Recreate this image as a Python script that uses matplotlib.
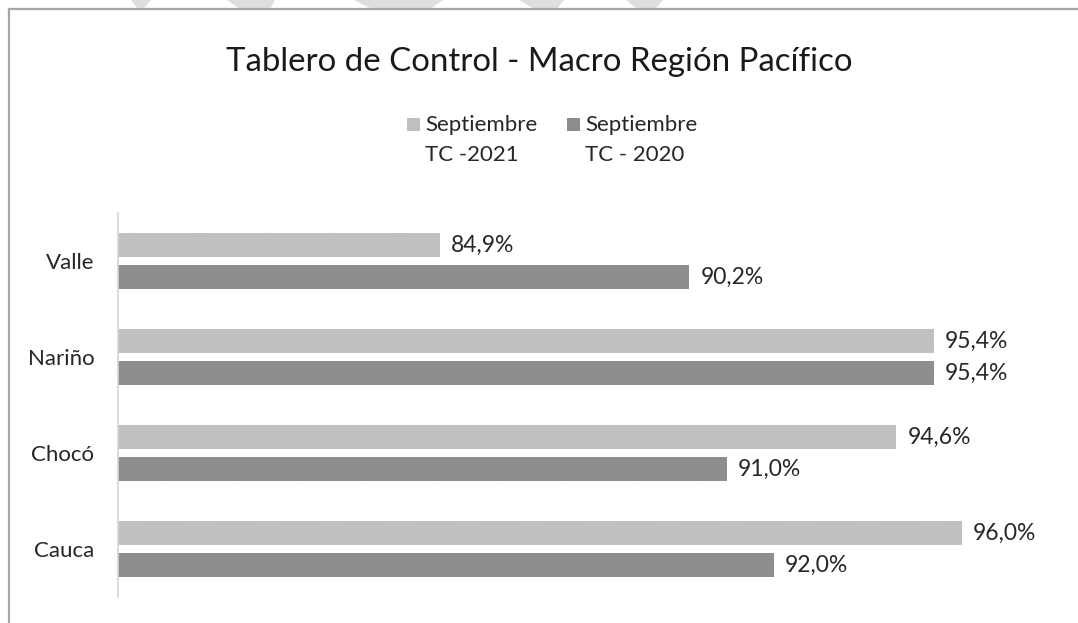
import matplotlib
matplotlib.use("Agg")
import matplotlib.pyplot as plt
from matplotlib.lines import Line2D
from matplotlib.patches import Polygon, Rectangle
import numpy as np

# data
categories = ["Valle", "Nariño", "Chocó", "Cauca"]
tc_2021 = [84.9, 95.4, 94.6, 96.0]
tc_2020 = [90.2, 95.4, 91.0, 92.0]
series_labels = ["Septiembre\nTC -2021", "Septiembre\nTC - 2020"]
title = "Tablero de Control - Macro Región Pacífico"

LIGHT = "#bfbfbf"
DARK = "#8c8c8c"
FONT = "Lato"
plt.rcParams["font.family"] = [FONT, "DejaVu Sans"]
plt.rcParams["hatch.linewidth"] = 0.4

W, H = 1078, 623
fig = plt.figure(figsize=(W / 100, H / 100), dpi=100)

# watermark bits in the top margin (outside the frame)
for x0, x1, b0, b1 in [(131, 151, 138, 143), (227, 275, 240, 270), (354, 443, 372, 430),
                       (519, 564, 534, 557), (626, 663, 637, 655)]:
    fig.patches.append(Polygon([(x0 / W, 1), (x1 / W, 1), (b1 / W, 1 - 9 / H), (b0 / W, 1 - 9 / H)],
                               closed=True, transform=fig.transFigure, color="#dedede", lw=0))

# frame (only top and left show)
fig.add_artist(Line2D([9 / W, 1], [1 - 9 / H, 1 - 9 / H], transform=fig.transFigure, color="#a6a6a6", lw=1.6))
fig.add_artist(Line2D([9 / W, 9 / W], [0, 1 - 9 / H], transform=fig.transFigure, color="#a6a6a6", lw=1.6))

ax = fig.add_axes([118 / W, 26 / H, 938 / W, 384 / H])
y = np.arange(len(categories))
h = 0.25
b1 = ax.barh(y - 0.1667, tc_2021, height=h, color=LIGHT, edgecolor="#cbcbcb", hatch="......", lw=0)
b2 = ax.barh(y + 0.1667, tc_2020, height=h, color=DARK, edgecolor="#989898", hatch="......", lw=0)

for bars, vals in [(b1, tc_2021), (b2, tc_2020)]:
    for bar, v in zip(bars, vals):
        ax.annotate(f"{v:.1f}%".replace(".", ","), (bar.get_width(), bar.get_y() + bar.get_height() / 2),
                    xytext=(8, 0), textcoords="offset points", va="center", ha="left",
                    fontsize=16.5, color="#262626")

ax.set_xlim(78.05, 98)
ax.set_ylim(3.5, -0.5)
ax.set_yticks(y)
ax.set_yticklabels(categories, fontsize=16, color="#262626")
ax.tick_params(axis="y", length=0, pad=17)
ax.set_xticks([])
for s in ["top", "right", "bottom"]:
    ax.spines[s].set_visible(False)
ax.spines["left"].set_color("#d4d4d4")
ax.spines["left"].set_linewidth(1.2)

fig.text(0.5, 1 - 71 / H, title, ha="center", va="baseline", fontsize=23.8, color="#1a1a1a")

# legend drawn by hand so the markers sit on the first text line
for i, (lab, col) in enumerate(zip(series_labels, [LIGHT, DARK])):
    sx = [407, 567][i]
    fig.patches.append(Rectangle((sx / W, 1 - 131 / H), 13 / W, 13 / H, transform=fig.transFigure,
                                 facecolor=col, lw=0))
    fig.text((sx + 18) / W, 1 - 115 / H, lab, ha="left", va="top", fontsize=16,
             color="#262626", linespacing=1.6)

fig.savefig("out.png", dpi=100, facecolor="white")
